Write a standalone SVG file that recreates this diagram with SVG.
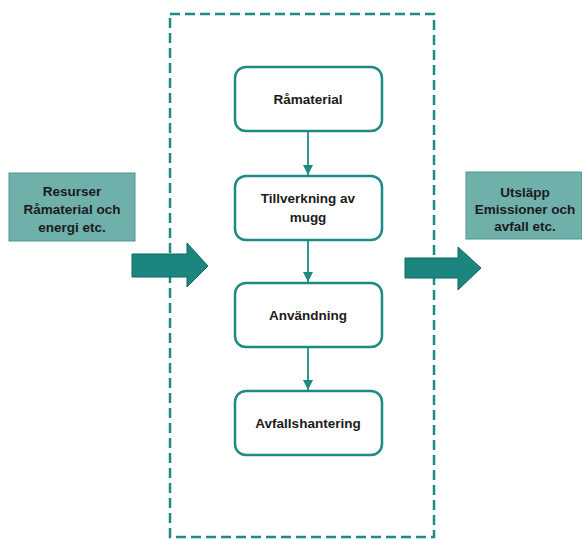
<svg xmlns="http://www.w3.org/2000/svg" width="582" height="540" viewBox="0 0 582 540">
  <defs>
    <marker id="head" viewBox="0 0 10 10" refX="10" refY="5" markerWidth="10" markerHeight="10" markerUnits="userSpaceOnUse" orient="auto">
      <path d="M0,0 L10,5 L0,10 Z" fill="#1f8a84"/>
    </marker>
    <style>
      text { font-family: "Liberation Sans", Arial, sans-serif; font-weight: bold; font-size: 13.5px; fill: #1b1b1b; text-anchor: middle; }
      .step { fill: #ffffff; stroke: #1f8a84; stroke-width: 2.5; }
      .io { fill: #6fb0ab; stroke: #4f9590; stroke-width: 1; }
      .big { fill: #1b8580; stroke: #126762; stroke-width: 1; }
      .link { stroke: #1f8a84; stroke-width: 1.8; fill: none; marker-end: url(#head); }
      .boundary { fill: none; stroke: #1f8a84; stroke-width: 2.5; stroke-dasharray: 10 5; }
    </style>
  </defs>
  <rect width="582" height="540" fill="#ffffff"/>

  <!-- system boundary -->
  <rect class="boundary" x="170" y="14" width="264" height="523"/>

  <!-- inputs -->
  <g id="resurser">
    <rect class="io" x="9" y="173" width="126" height="68"/>
    <text x="72" y="196">Resurser</text>
    <text x="72" y="214">Råmaterial och</text>
    <text x="72" y="232">energi etc.</text>
  </g>
  <g id="inflow">
    <path class="big" d="M132,254 H187 V243 L208,266 L187,287 V277 H132 Z"/>
  </g>

  <!-- outputs -->
  <g id="utslapp">
    <rect class="io" x="466" y="172" width="116" height="67"/>
    <text x="525" y="197">Utsläpp</text>
    <text x="525" y="214">Emissioner och</text>
    <text x="525" y="231">avfall etc.</text>
  </g>
  <g id="outflow">
    <path class="big" d="M405,258 H458 V247 L481,268 L458,290 V278 H405 Z"/>
  </g>

  <!-- life-cycle stages -->
  <g id="ramaterial">
    <rect class="step" x="235" y="67" width="147" height="64" rx="11"/>
    <text x="308" y="104">Råmaterial</text>
  </g>
  <g id="tillverkning">
    <rect class="step" x="235" y="176" width="147" height="64" rx="11"/>
    <text x="308" y="203">Tillverkning av</text>
    <text x="308" y="222">mugg</text>
  </g>
  <g id="anvandning">
    <rect class="step" x="235" y="283" width="147" height="64" rx="11"/>
    <text x="308" y="320">Användning</text>
  </g>
  <g id="avfallshantering">
    <rect class="step" x="235" y="391" width="147" height="64" rx="11"/>
    <text x="308" y="428">Avfallshantering</text>
  </g>

  <g id="connectors">
    <line class="link" x1="308" y1="132" x2="308" y2="175"/>
    <line class="link" x1="308" y1="241" x2="308" y2="282"/>
    <line class="link" x1="308" y1="348" x2="308" y2="390"/>
  </g>
</svg>
